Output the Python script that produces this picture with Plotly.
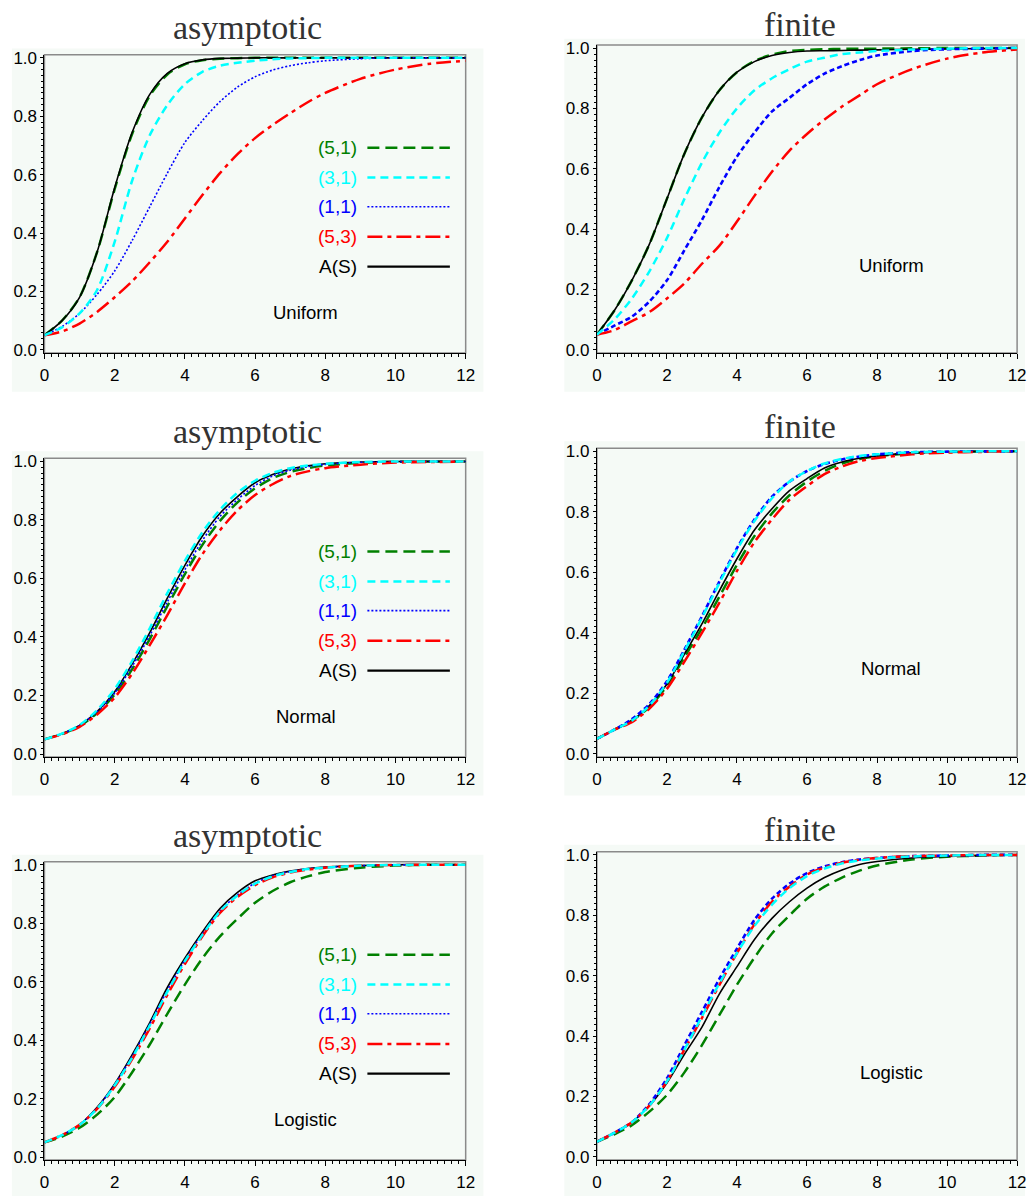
import plotly.graph_objects as go

W, H = 1034, 1203

# ---------------- data ----------------
x_grid = [0, 0.5, 1, 1.5, 2, 2.5, 3, 3.5, 4, 4.5, 5, 5.5, 6, 6.5, 7, 7.5, 8, 9, 10, 11, 12]
series_labels = ["(5,1)", "(3,1)", "(1,1)", "(5,3)", "A(S)"]

# Uniform, asymptotic
uni_asy_51 = [.05, .10, .18, .335, .55, .74, .87, .943, .978, .992, .997, .999, 1, 1, 1, 1, 1, 1, 1, 1, 1]
uni_asy_31 = [.05, .077, .125, .205, .37, .58, .735, .838, .91, .952, .973, .983, .99, .995, .998, .999, 1, 1, 1, 1, 1]
uni_asy_11 = [.05, .08, .125, .19, .27, .375, .49, .605, .71, .785, .85, .90, .935, .958, .973, .983, .99, .997, 1, 1, 1]
uni_asy_53 = [.05, .063, .09, .13, .18, .235, .30, .37, .45, .53, .605, .67, .725, .77, .81, .848, .88, .928, .96, .98, .99]
uni_asy_AS = [.05, .10, .18, .335, .555, .745, .875, .947, .98, .993, .998, .999, 1, 1, 1, 1, 1, 1, 1, 1, 1]

# Uniform, finite
uni_fin_51 = [.05, .13, .23, .35, .50, .65, .77, .86, .92, .957, .978, .99, .994, .996, .997, .998, .998, .999, 1, 1, 1]
uni_fin_31 = [.05, .10, .17, .26, .37, .50, .62, .72, .80, .86, .90, .93, .955, .968, .98, .985, .99, .995, .998, 1, 1]
uni_fin_11 = [.05, .08, .11, .16, .23, .33, .43, .54, .64, .72, .79, .835, .88, .915, .94, .96, .975, .99, .996, .998, 1]
uni_fin_53 = [.05, .065, .095, .125, .17, .22, .285, .345, .425, .51, .59, .66, .715, .763, .806, .843, .88, .93, .965, .985, .995]
uni_fin_AS = [.05, .13, .23, .35, .50, .65, .77, .86, .92, .955, .975, .985, .99, .991, .992, .993, .994, .996, .997, .998, 1]

# Normal, asymptotic
nor_asy_51 = [.05, .069, .095, .14, .203, .29, .393, .505, .615, .715, .797, .86, .908, .943, .964, .977, .986, .995, .999, 1, 1]
nor_asy_31 = [.05, .07, .099, .15, .222, .318, .43, .55, .66, .758, .835, .893, .934, .961, .977, .986, .992, .998, 1, 1, 1]
nor_asy_11 = [.05, .069, .098, .145, .208, .30, .405, .52, .63, .73, .812, .87, .918, .95, .97, .982, .99, .997, .999, 1, 1]
nor_asy_53 = [.05, .067, .093, .135, .193, .275, .372, .475, .583, .683, .765, .833, .885, .922, .95, .966, .977, .989, .996, .998, .999]
nor_asy_AS = [.05, .069, .098, .145, .213, .308, .415, .533, .645, .745, .823, .88, .927, .955, .974, .985, .992, .998, 1, 1, 1]

# Normal, finite
nor_fin_51 = [.05, .08, .11, .155, .225, .32, .415, .52, .625, .72, .795, .855, .90, .935, .96, .975, .984, .994, .998, 1, 1]
nor_fin_31 = [.05, .08, .11, .16, .235, .34, .45, .565, .675, .77, .845, .90, .935, .96, .975, .985, .99, .997, .999, 1, 1]
nor_fin_11 = [.05, .08, .115, .165, .24, .345, .455, .57, .68, .775, .85, .90, .935, .958, .973, .983, .99, .997, .999, 1, 1]
nor_fin_53 = [.05, .08, .105, .15, .215, .305, .40, .50, .605, .70, .775, .84, .885, .925, .95, .968, .978, .99, .996, .998, 1]
nor_fin_AS = [.05, .08, .11, .16, .23, .33, .43, .54, .645, .74, .81, .87, .91, .945, .965, .977, .985, .995, .998, 1, 1]

# Logistic, asymptotic
log_asy_51 = [.05, .07, .10, .145, .205, .29, .385, .49, .59, .68, .755, .815, .87, .91, .94, .96, .975, .99, .997, 1, 1]
log_asy_31 = [.05, .075, .11, .165, .245, .34, .45, .565, .67, .76, .84, .895, .935, .96, .975, .985, .99, .997, .999, 1, 1]
log_asy_11 = [.05, .075, .11, .168, .248, .345, .455, .57, .673, .763, .842, .897, .937, .962, .977, .986, .991, .997, .999, 1, 1]
log_asy_53 = [.05, .075, .11, .165, .24, .335, .44, .555, .66, .755, .835, .89, .93, .957, .973, .983, .99, .997, .999, 1, 1]
log_asy_AS = [.05, .075, .11, .17, .25, .35, .46, .58, .68, .77, .85, .905, .945, .965, .978, .987, .992, .997, 1, 1, 1]

# Logistic, finite
log_fin_51 = [.05, .075, .105, .15, .205, .28, .37, .47, .57, .66, .74, .80, .855, .895, .925, .948, .965, .985, .994, .998, 1]
log_fin_31 = [.05, .08, .115, .17, .25, .355, .465, .575, .675, .765, .835, .89, .93, .955, .972, .982, .988, .995, .998, 1, 1]
log_fin_11 = [.05, .08, .115, .175, .26, .37, .48, .59, .69, .785, .855, .905, .94, .962, .976, .985, .99, .996, .998, 1, 1]
log_fin_53 = [.05, .08, .115, .17, .25, .355, .46, .57, .675, .77, .845, .895, .935, .958, .974, .984, .99, .996, .998, 1, 1]
log_fin_AS = [.05, .08, .115, .17, .245, .34, .43, .54, .63, .72, .79, .845, .89, .925, .95, .968, .978, .99, .995, .998, 1]

x_tickvals = [0, 2, 4, 6, 8, 10, 12]
y_tickvals = [0, 0.2, 0.4, 0.6, 0.8, 1.0]

# ---------------- styles ----------------
GREEN, CYAN, BLUE, RED, BLACK = "#008000", "#00ffff", "#0000ff", "#ff0000", "#000000"
colors = [GREEN, CYAN, BLUE, RED, BLACK]
dash_asy = ["12px,6px", "8px,5px", "2px,2px", "15px,5px,4px,5px", "solid"]
dash_fin = ["12px,6px", "8px,5px", "5px,3px", "15px,5px,4px,5px", "solid"]
width_asy = [2.5, 2.5, 1.6, 2.5, 1.6]
width_fin = [2.5, 2.5, 2.6, 2.5, 1.6]
draw_order = [0, 4, 2, 3, 1]   # green, black, blue, red, cyan on top

BOX_BG = "#f5faf6"
SANS = "Liberation Sans, Arial, sans-serif"
SERIF = "Liberation Serif, Times New Roman, serif"


def px2x(px):
    return px / W


def px2y(py):
    return 1 - py / H


panels = [
    dict(title="asymptotic", dist="Uniform", asy=True,
         data=[uni_asy_51, uni_asy_31, uni_asy_11, uni_asy_53, uni_asy_AS],
         xd=(40, 467), yd=(49.3, 350.7), box=(7, 43, 485, 390), tpos=(246, 22), dpos=(7.45, 0.128)),
    dict(title="finite", dist="Uniform", asy=False,
         data=[uni_fin_51, uni_fin_31, uni_fin_11, uni_fin_53, uni_fin_AS],
         xd=(600, 1026), yd=(39.3, 350.7), box=(567, 33, 1034, 390), tpos=(806, 19), dpos=(8.40, 0.279)),
    dict(title="asymptotic", dist="Normal", asy=True,
         data=[nor_asy_51, nor_asy_31, nor_asy_11, nor_asy_53, nor_asy_AS],
         xd=(40, 467), yd=(457.3, 759.3), box=(7, 450, 485, 798), tpos=(246, 430), dpos=(7.45, 0.128)),
    dict(title="finite", dist="Normal", asy=False,
         data=[nor_fin_51, nor_fin_31, nor_fin_11, nor_fin_53, nor_fin_AS],
         xd=(600, 1026), yd=(447, 759.3), box=(567, 440, 1034, 798), tpos=(806, 425), dpos=(8.40, 0.281)),
    dict(title="asymptotic", dist="Logistic", asy=True,
         data=[log_asy_51, log_asy_31, log_asy_11, log_asy_53, log_asy_AS],
         xd=(40, 467), yd=(865, 1166.7), box=(7, 858, 485, 1203), tpos=(246, 839), dpos=(7.45, 0.127)),
    dict(title="finite", dist="Logistic", asy=False,
         data=[log_fin_51, log_fin_31, log_fin_11, log_fin_53, log_fin_AS],
         xd=(600, 1026), yd=(855, 1166.7), box=(567, 848, 1034, 1203), tpos=(806, 833), dpos=(8.40, 0.279)),
]

legend_y = [0.692, 0.590, 0.490, 0.387, 0.285]

fig = go.Figure()
shapes, annotations = [], []
layout_axes = {}

for i, p in enumerate(panels, start=1):
    xa = "x" if i == 1 else f"x{i}"
    ya = "y" if i == 1 else f"y{i}"
    dashes = dash_asy if p["asy"] else dash_fin
    widths = width_asy if p["asy"] else width_fin

    for k in draw_order:
        fig.add_trace(go.Scatter(
            x=x_grid, y=p["data"][k], mode="lines", xaxis=xa, yaxis=ya,
            line=dict(color=colors[k], dash=dashes[k], width=widths[k], shape="spline", smoothing=0.8),
            showlegend=False, hoverinfo="skip"))

    # panel background box
    bx0, by0, bx1, by1 = p["box"]
    shapes.append(dict(type="rect", xref="paper", yref="paper", layer="below",
                       x0=px2x(bx0), x1=px2x(bx1), y0=px2y(by1), y1=px2y(by0),
                       fillcolor=BOX_BG, line=dict(width=0)))
    # plot frame (grey top/right)
    shapes.append(dict(type="rect", xref=f"{xa} domain", yref=f"{ya} domain", layer="below",
                       x0=0, x1=1, y0=0, y1=1, line=dict(color="#8a8a8a", width=1.5)))

    axis_common = dict(showgrid=False, zeroline=False, showline=True, linecolor="black", linewidth=1,
                       ticks="outside", tickcolor="black", tickwidth=1,
                       tickfont=dict(family=SANS, size=17, color="black"))
    layout_axes["xaxis" if i == 1 else f"xaxis{i}"] = dict(
        domain=[px2x(p["xd"][0]), px2x(p["xd"][1])], anchor=ya, range=[0, 12],
        tickvals=x_tickvals, ticklen=5, ticklabelstandoff=2,
        minor=dict(tick0=0, dtick=0.2, ticks="outside", ticklen=3, tickcolor="black", showgrid=False),
        **axis_common)
    layout_axes["yaxis" if i == 1 else f"yaxis{i}"] = dict(
        domain=[px2y(p["yd"][1]), px2y(p["yd"][0])], anchor=xa, range=[-0.0105, 1.0105],
        tickvals=y_tickvals, tickformat=".1f", ticklen=3,
        minor=dict(tick0=0, dtick=0.02, ticks="outside", ticklen=2, tickcolor="black", showgrid=False),
        **axis_common)

    # title
    annotations.append(dict(xref="paper", yref="paper", x=px2x(p["tpos"][0]), y=px2y(p["tpos"][1]),
                            text=p["title"], showarrow=False, xanchor="center", yanchor="middle",
                            font=dict(family=SERIF, size=34, color="#333333")))
    # distribution label
    annotations.append(dict(xref=xa, yref=ya, x=p["dpos"][0], y=p["dpos"][1], text=p["dist"],
                            showarrow=False, xanchor="center", yanchor="middle",
                            font=dict(family=SANS, size=18.5, color="black")))
    # manual legend (text left of line sample)
    if p["asy"]:
        for k in range(5):
            annotations.append(dict(xref=xa, yref=ya, x=8.95, y=legend_y[k], text=series_labels[k],
                                    showarrow=False, xanchor="right", yanchor="middle",
                                    font=dict(family=SANS, size=19, color=colors[k])))
            shapes.append(dict(type="line", xref=xa, yref=ya, x0=9.2, x1=11.55,
                               y0=legend_y[k], y1=legend_y[k],
                               line=dict(color=colors[k], dash=dash_asy[k],
                                         width=widths[k] if k != 4 else 2.2)))

fig.update_layout(
    width=W, height=H, autosize=False,
    margin=dict(l=0, r=0, t=0, b=0),
    paper_bgcolor="white", plot_bgcolor="rgba(0,0,0,0)",
    shapes=shapes, annotations=annotations,
    **layout_axes,
)

fig.write_html("out.html")
